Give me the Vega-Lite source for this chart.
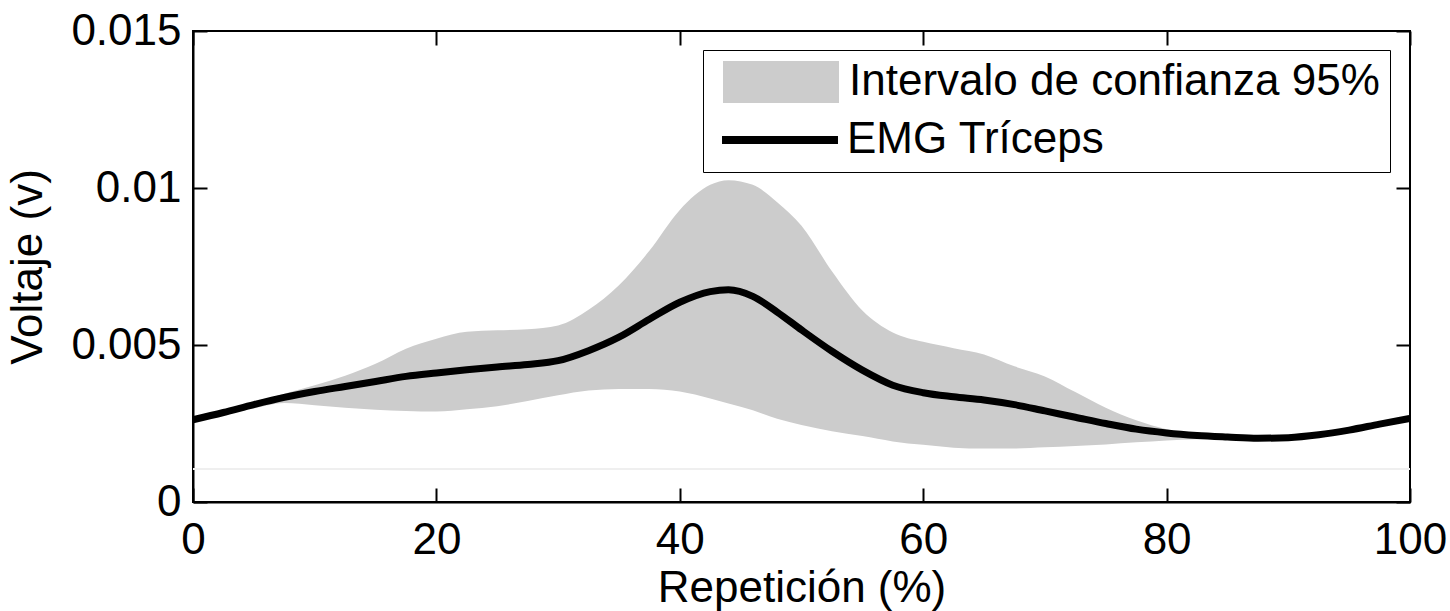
{
  "$schema": "https://vega.github.io/schema/vega-lite/v6.json",
  "autosize": "none",
  "width": 1217,
  "height": 471,
  "padding": {"left": 193, "top": 31, "right": 40, "bottom": 109},
  "background": "white",
  "datasets": {
    "emg": [
      {"x": 0, "mean": 0.00262, "lo": 0.00262, "hi": 0.00262},
      {"x": 2.5, "mean": 0.00285, "lo": 0.00281, "hi": 0.00288},
      {"x": 5, "mean": 0.00310, "lo": 0.00298, "hi": 0.00318},
      {"x": 7.5, "mean": 0.00333, "lo": 0.00315, "hi": 0.00345},
      {"x": 10, "mean": 0.00352, "lo": 0.00308, "hi": 0.00372},
      {"x": 12.5, "mean": 0.00368, "lo": 0.00300, "hi": 0.00402},
      {"x": 15, "mean": 0.00384, "lo": 0.00294, "hi": 0.00440},
      {"x": 17.5, "mean": 0.00400, "lo": 0.00290, "hi": 0.00488},
      {"x": 20, "mean": 0.00411, "lo": 0.00288, "hi": 0.00520},
      {"x": 22.5, "mean": 0.00421, "lo": 0.00295, "hi": 0.00542},
      {"x": 25, "mean": 0.00430, "lo": 0.00305, "hi": 0.00547},
      {"x": 27.5, "mean": 0.00438, "lo": 0.00322, "hi": 0.00550},
      {"x": 30, "mean": 0.00450, "lo": 0.00340, "hi": 0.00562},
      {"x": 32.5, "mean": 0.00482, "lo": 0.00355, "hi": 0.00612},
      {"x": 35, "mean": 0.00525, "lo": 0.00360, "hi": 0.00690},
      {"x": 37.5, "mean": 0.00582, "lo": 0.00360, "hi": 0.00800},
      {"x": 40, "mean": 0.00636, "lo": 0.00352, "hi": 0.00930},
      {"x": 42.5, "mean": 0.00670, "lo": 0.00330, "hi": 0.01010},
      {"x": 44, "mean": 0.00676, "lo": 0.00314, "hi": 0.01025},
      {"x": 46, "mean": 0.00655, "lo": 0.00292, "hi": 0.01010},
      {"x": 48, "mean": 0.00605, "lo": 0.00265, "hi": 0.00955},
      {"x": 50, "mean": 0.00548, "lo": 0.00245, "hi": 0.00880},
      {"x": 52.5, "mean": 0.00480, "lo": 0.00225, "hi": 0.00735},
      {"x": 55, "mean": 0.00420, "lo": 0.00210, "hi": 0.00610},
      {"x": 57.5, "mean": 0.00372, "lo": 0.00193, "hi": 0.00540},
      {"x": 60, "mean": 0.00348, "lo": 0.00182, "hi": 0.00510},
      {"x": 62.5, "mean": 0.00335, "lo": 0.00173, "hi": 0.00490},
      {"x": 65, "mean": 0.00325, "lo": 0.00170, "hi": 0.00470},
      {"x": 67.5, "mean": 0.00310, "lo": 0.00170, "hi": 0.00432},
      {"x": 70, "mean": 0.00290, "lo": 0.00174, "hi": 0.00400},
      {"x": 72.5, "mean": 0.00270, "lo": 0.00178, "hi": 0.00350},
      {"x": 75, "mean": 0.00250, "lo": 0.00183, "hi": 0.00300},
      {"x": 77.5, "mean": 0.00232, "lo": 0.00190, "hi": 0.00260},
      {"x": 80, "mean": 0.00220, "lo": 0.00196, "hi": 0.00232},
      {"x": 82.5, "mean": 0.00212, "lo": 0.00200, "hi": 0.00218},
      {"x": 85, "mean": 0.00207, "lo": 0.00204, "hi": 0.00210},
      {"x": 87.5, "mean": 0.00203, "lo": 0.00201, "hi": 0.00205},
      {"x": 90, "mean": 0.00205, "lo": 0.00203, "hi": 0.00207},
      {"x": 92.5, "mean": 0.00214, "lo": 0.00212, "hi": 0.00216},
      {"x": 95, "mean": 0.00229, "lo": 0.00227, "hi": 0.00231},
      {"x": 97.5, "mean": 0.00248, "lo": 0.00246, "hi": 0.00250},
      {"x": 100, "mean": 0.00266, "lo": 0.00266, "hi": 0.00266}
    ],
    "base": [{"v": 0.00105}]
  },
  "resolve": {"axis": {"x": "independent", "y": "independent"}},
  "layer": [
    {
      "data": {"name": "base"},
      "mark": {"type": "rule", "color": "#efefef", "strokeWidth": 2},
      "encoding": {
        "y": {"field": "v", "type": "quantitative", "scale": {"domain": [0, 0.015]}, "axis": null}
      }
    },
    {
      "data": {"name": "emg"},
      "mark": {"type": "area", "interpolate": "monotone", "opacity": 1},
      "encoding": {
        "x": {"field": "x", "type": "quantitative", "scale": {"domain": [0, 100], "nice": false},
          "axis": {"values": [0, 20, 40, 60, 80, 100], "title": "Repetición (%)", "labelFlush": false, "labelOverlap": false, "labelPadding": 30, "titlePadding": 4}},
        "y": {"field": "lo", "type": "quantitative", "scale": {"domain": [0, 0.015], "nice": false},
          "axis": {"values": [0, 0.005, 0.01, 0.015], "format": ".3~f", "title": "Voltaje (v)", "labelOverlap": false, "labelPadding": 26, "titlePadding": 20}},
        "y2": {"field": "hi"},
        "fill": {"datum": "Intervalo de confianza 95%", "type": "nominal",
          "scale": {"range": ["#cccccc"]},
          "legend": {
            "orient": "none", "legendX": 510, "legendY": 19,
            "title": " ", "titleOrient": "bottom", "titleFontSize": 44, "titlePadding": 14,
            "titleFont": "Liberation Sans",
            "labelFont": "Liberation Sans", "labelFontSize": 44, "labelColor": "black", "labelLimit": 0,
            "labelOffset": 92, "symbolSize": 1764,
            "symbolType": "M-0.571,-1H4.952V1H-0.571Z",
            "symbolStrokeWidth": 0,
            "strokeColor": "black", "padding": 10
          }}
      }
    },
    {
      "data": {"name": "emg"},
      "mark": {"type": "line", "interpolate": "monotone", "strokeWidth": 7},
      "encoding": {
        "x": {"field": "x", "type": "quantitative",
          "axis": {"orient": "top", "values": [0, 20, 40, 60, 80, 100], "labels": false, "title": null, "domain": false}},
        "y": {"field": "mean", "type": "quantitative",
          "axis": {"orient": "right", "values": [0, 0.005, 0.01, 0.015], "labels": false, "title": null, "domain": false}},
        "stroke": {"datum": "EMG Tríceps", "type": "nominal",
          "scale": {"range": ["#000000"]},
          "legend": {
            "orient": "none", "legendX": 516, "legendY": 84, "title": null,
            "labelFont": "Liberation Sans", "labelFontSize": 44, "labelColor": "black", "labelLimit": 0,
            "labelOffset": 88, "symbolSize": 1764,
            "symbolType": "M-0.571,0H4.952",
            "symbolStrokeWidth": 8,
            "padding": 0
          }}
      }
    }
  ],
  "config": {
    "view": {"stroke": "black", "strokeWidth": 2},
    "font": "Liberation Sans",
    "axis": {
      "labelFont": "Liberation Sans", "labelFontSize": 44, "labelColor": "black",
      "titleFont": "Liberation Sans", "titleFontSize": 44, "titleColor": "black", "titleFontWeight": "normal",
      "grid": false, "domainColor": "black", "domainWidth": 2,
      "tickColor": "black", "tickWidth": 2, "tickSize": -14
    }
  }
}
